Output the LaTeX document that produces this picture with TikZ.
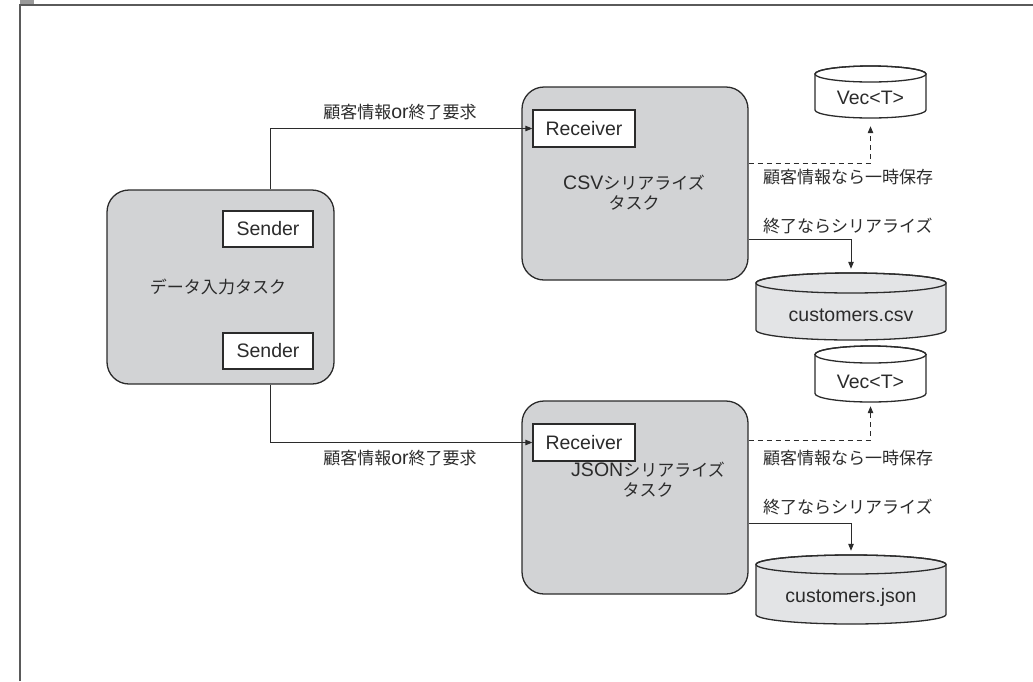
\documentclass[tikz,border=0pt]{standalone}
\usepackage{fontspec}
\setmainfont{Liberation Sans}
\newfontfamily\cjk[Scale=0.872]{Noto Sans CJK JP}
\usetikzlibrary{arrows.meta}
\definecolor{boxgray}{HTML}{D2D3D5}
\definecolor{cylgray}{HTML}{E3E4E6}
\definecolor{linec}{HTML}{2B2B2B}
\definecolor{framec}{HTML}{5A5A5A}
\definecolor{tabc}{HTML}{9A9A9A}
\newcommand\drawcyl[6]{% cx, rx, ytop, ybottom, ry, fill
  \filldraw[cylline, fill=#6] (#1-#2,#3+#5) -- (#1-#2,#4-#5)
    arc[start angle=180, end angle=360, x radius=#2pt, y radius=#5pt]
    -- (#1+#2,#3+#5)
    arc[start angle=0, end angle=180, x radius=#2pt, y radius=#5pt] -- cycle;
  \draw[cylline] (#1,#3+#5) ellipse[x radius=#2pt, y radius=#5pt];
}
\begin{document}
\begin{tikzpicture}[x=1pt,y=-1pt,
  every node/.style={font=\fontsize{19.5}{22}\selectfont, text=linec},
  task/.style={draw=linec, fill=boxgray, line width=1.3pt, rounded corners=22pt, inner sep=0pt},
  port/.style={draw=linec, fill=white, line width=1.3pt, inner sep=0pt},
  cylline/.style={draw=linec, line width=1.3pt},
  conn/.style={draw=linec, line width=1pt, -{Triangle[length=7pt,width=5.5pt]}},
  dconn/.style={conn, dash pattern=on 5pt off 4pt},
  lbl/.style={inner sep=0pt, anchor=west}
]
\useasboundingbox (0,0) rectangle (1033,681);
% frame
\fill[tabc] (20,0) rectangle (34,4);
\draw[framec, line width=2pt] (20,681) -- (20,5) -- (1033,5);

% data input task
\node[task, minimum width=227pt, minimum height=194pt] (data) at (220.5,287) {};
\node (datat) at (218,287) {\cjk データ入力タスク};
\node[port, minimum width=90pt, minimum height=36pt] (s1) at (268,229) {Sender};
\node[port, minimum width=90pt, minimum height=36pt] (s2) at (268,351) {Sender};

% CSV task
\node[task, minimum width=226pt, minimum height=193pt] (csvtask) at (635,183.5) {};
\node[port, minimum width=102pt, minimum height=37pt] (r1) at (584,128.5) {Receiver};
\node[align=center, inner sep=0pt] (csvt) at (634,193) {CSV{\cjk シリアライズ}\\[-2pt]{\cjk タスク}};

% JSON task
\node[task, minimum width=226pt, minimum height=193pt] (jsontask) at (635,497.5) {};
\node[port, minimum width=102pt, minimum height=37pt] (r2) at (584,442.5) {Receiver};
\node[align=center, inner sep=0pt] (jsont) at (648,480) {JSON{\cjk シリアライズ}\\[-2pt]{\cjk タスク}};

% cylinders
\drawcyl{870.5}{55.5}{66}{118}{8}{white}
\node[inner sep=0pt, minimum width=111pt, minimum height=52pt] (vec1) at (870.5,92) {};
\node (vec1t) at (870.5,98) {Vec<T>};

\drawcyl{870.5}{55.5}{346}{402}{8.5}{white}
\node[inner sep=0pt, minimum width=111pt, minimum height=56pt] (vec2) at (870.5,374) {};
\node (vec2t) at (870.5,382) {Vec<T>};

\drawcyl{851}{95}{273}{340}{10}{cylgray}
\node[inner sep=0pt, minimum width=190pt, minimum height=67pt] (csvf) at (851,306.5) {};
\node (csvft) at (851,315) {customers.csv};

\drawcyl{851}{95}{555}{624}{9.5}{cylgray}
\node[inner sep=0pt, minimum width=190pt, minimum height=69pt] (jsonf) at (851,589.5) {};
\node (jsonft) at (851,597) {customers.json};

% connectors from data task
\draw[conn] ([xshift=2pt]s1.north |- data.north) |- (r1.west);
\draw[conn] ([xshift=2pt]s2.south |- data.south) |- (r2.west);
\node (l1) at (400,112) {{\cjk 顧客情報}or{\cjk 終了要求}};
\node (l2) at (400,458) {{\cjk 顧客情報}or{\cjk 終了要求}};

% CSV outputs
\draw[dconn, shorten >=8pt] ([yshift=20.5pt]csvtask.east) -| (vec1.south);
\draw[conn, shorten >=4pt] ([yshift=-55.5pt]csvtask.east) -| (csvf.north);
\node[lbl] (l3) at (763,177) {\cjk 顧客情報なら一時保存};
\node[lbl] (l4) at (763,226) {\cjk 終了ならシリアライズ};

% JSON outputs
\draw[dconn, shorten >=4pt] ([yshift=57.5pt]jsontask.east) -| (vec2.south);
\draw[conn, shorten >=4pt] ([yshift=-25.5pt]jsontask.east) -| (jsonf.north);
\node[lbl] (l5) at (763,458) {\cjk 顧客情報なら一時保存};
\node[lbl] (l6) at (763,507) {\cjk 終了ならシリアライズ};
\end{tikzpicture}
\end{document}
